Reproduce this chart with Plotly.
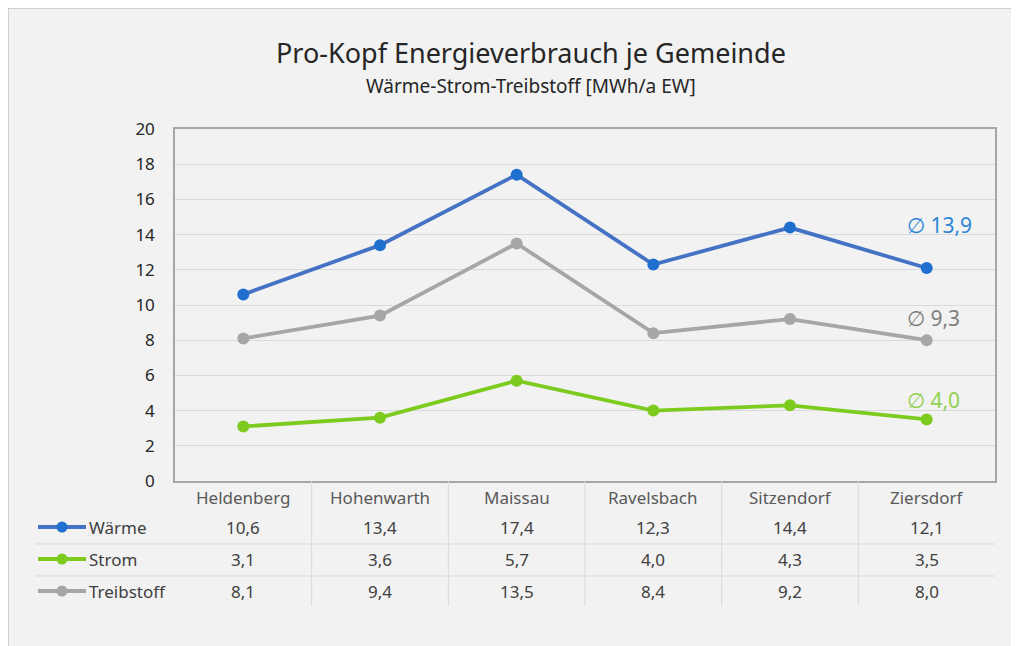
import plotly.graph_objects as go

categories = ["Heldenberg", "Hohenwarth", "Maissau", "Ravelsbach", "Sitzendorf", "Ziersdorf"]
waerme = [10.6, 13.4, 17.4, 12.3, 14.4, 12.1]
strom = [3.1, 3.6, 5.7, 4.0, 4.3, 3.5]
treibstoff = [8.1, 9.4, 13.5, 8.4, 9.2, 8.0]
series_names = ["Wärme", "Strom", "Treibstoff"]
averages = ["13,9", "4,0", "9,3"]
avg_label_y = [14.55, 4.6, 9.26]
y_ticks = list(range(0, 21, 2))

# page body has an 8px margin: reference pixel X -> figure pixel X-8
OFF = 8
W, H = 1019 - OFF, 646 - OFF
L, R, T, B = 175 - OFF, W - (995 - OFF), 129 - OFF, H - (481 - OFF)
PW, PH = W - L - R, H - T - B


def px(x):
    return (x - OFF - L) / PW


def py(y):
    return (H - B - (y - OFF)) / PH


line_colors = ["#4472C4", "#7ECB20", "#A6A6A6"]
marker_colors = ["#1F6FCF", "#7ECB20", "#A6A6A6"]
avg_colors = ["#2E86D4", "#92D050", "#7F7F7F"]
data = [waerme, strom, treibstoff]
FONT = "Noto Sans"

fig = go.Figure()
for name, vals, lc, mc in zip(series_names, data, line_colors, marker_colors):
    fig.add_trace(go.Scatter(
        x=categories, y=vals, mode="lines+markers", name=name,
        line=dict(color=lc, width=3.8),
        marker=dict(color=mc, size=12),
        showlegend=False, cliponaxis=False,
    ))

shapes = []
annotations = []

# outer frame (only left and top edges visible)
shapes.append(dict(type="rect", xref="paper", yref="paper",
                   x0=px(8), x1=px(1040), y0=py(680), y1=py(8),
                   fillcolor="#F2F2F2", line=dict(color="#C4C4C4", width=1.5),
                   layer="below"))

# title and subtitle
annotations.append(dict(text="Pro-Kopf Energieverbrauch je Gemeinde", x=px(531), y=py(52),
                        xref="paper", yref="paper", showarrow=False,
                        font=dict(family=FONT, size=27, color="#262626"),
                        xanchor="center", yanchor="middle"))
annotations.append(dict(text="Wärme-Strom-Treibstoff [MWh/a EW]", x=px(531), y=py(86),
                        xref="paper", yref="paper", showarrow=False,
                        font=dict(family=FONT, size=19, color="#262626"),
                        xanchor="center", yanchor="middle"))

# table header
row_y = [py(497), py(527), py(559), py(591)]
for c in categories:
    annotations.append(dict(text=c, x=c, y=row_y[0], xref="x", yref="paper",
                            showarrow=False, font=dict(family=FONT, size=17, color="#595959"),
                            xanchor="center", yanchor="middle"))
# rows
for i, (name, vals, lc, mc) in enumerate(zip(series_names, data, line_colors, marker_colors)):
    yy = row_y[i + 1]
    for c, v in zip(categories, vals):
        annotations.append(dict(text=f"{v:.1f}".replace(".", ","), x=c, y=yy,
                                xref="x", yref="paper", showarrow=False,
                                font=dict(family=FONT, size=17, color="#404040"),
                                xanchor="center", yanchor="middle"))
    annotations.append(dict(text=name, x=px(87), y=yy, xref="paper", yref="paper",
                            showarrow=False, font=dict(family=FONT, size=17, color="#404040"),
                            xanchor="left", yanchor="middle"))
    shapes.append(dict(type="line", xref="paper", yref="paper", x0=px(38), x1=px(86),
                       y0=yy, y1=yy, line=dict(color=lc, width=3.8)))
    shapes.append(dict(type="circle", xref="paper", yref="paper",
                       x0=px(62 - 5.5), x1=px(62 + 5.5), y0=yy - 5.5 / PH, y1=yy + 5.5 / PH,
                       fillcolor=mc, line=dict(color=mc, width=0)))

# table grid lines
for yline in [544, 576]:
    shapes.append(dict(type="line", xref="paper", yref="paper", x0=px(35), x1=px(995),
                       y0=py(yline), y1=py(yline), line=dict(color="#D9D9D9", width=1)))
for k in range(1, len(categories)):
    shapes.append(dict(type="line", xref="x", yref="paper", x0=k - 0.5, x1=k - 0.5,
                       y0=py(481), y1=py(606), line=dict(color="#D9D9D9", width=1)))

# averages
for txt, yv, col in zip(averages, avg_label_y, avg_colors):
    annotations.append(dict(text="∅ " + txt, x=px(905), y=yv, xref="paper", yref="y",
                            showarrow=False, font=dict(family=FONT, size=21, color=col),
                            xanchor="left", yanchor="middle"))

fig.update_layout(
    width=W, height=H,
    margin=dict(l=L, r=R, t=T, b=B),
    paper_bgcolor="white",
    plot_bgcolor="white",
    shapes=shapes,
    annotations=annotations,
    font=dict(family=FONT),
)
fig.update_xaxes(type="category", range=[-0.5, len(categories) - 0.5], showticklabels=False,
                 showgrid=False, showline=True, linecolor="#A6A6A6", linewidth=1.5, mirror=True,
                 zeroline=False)
fig.update_yaxes(range=[0, 20], tickvals=y_ticks, showgrid=True, gridcolor="#D9D9D9", gridwidth=1,
                 showline=True, linecolor="#A6A6A6", linewidth=1.5, mirror=True, zeroline=False,
                 tickfont=dict(family=FONT, size=17, color="#262626"), ticklabelstandoff=15)

fig.write_html("out.html")
